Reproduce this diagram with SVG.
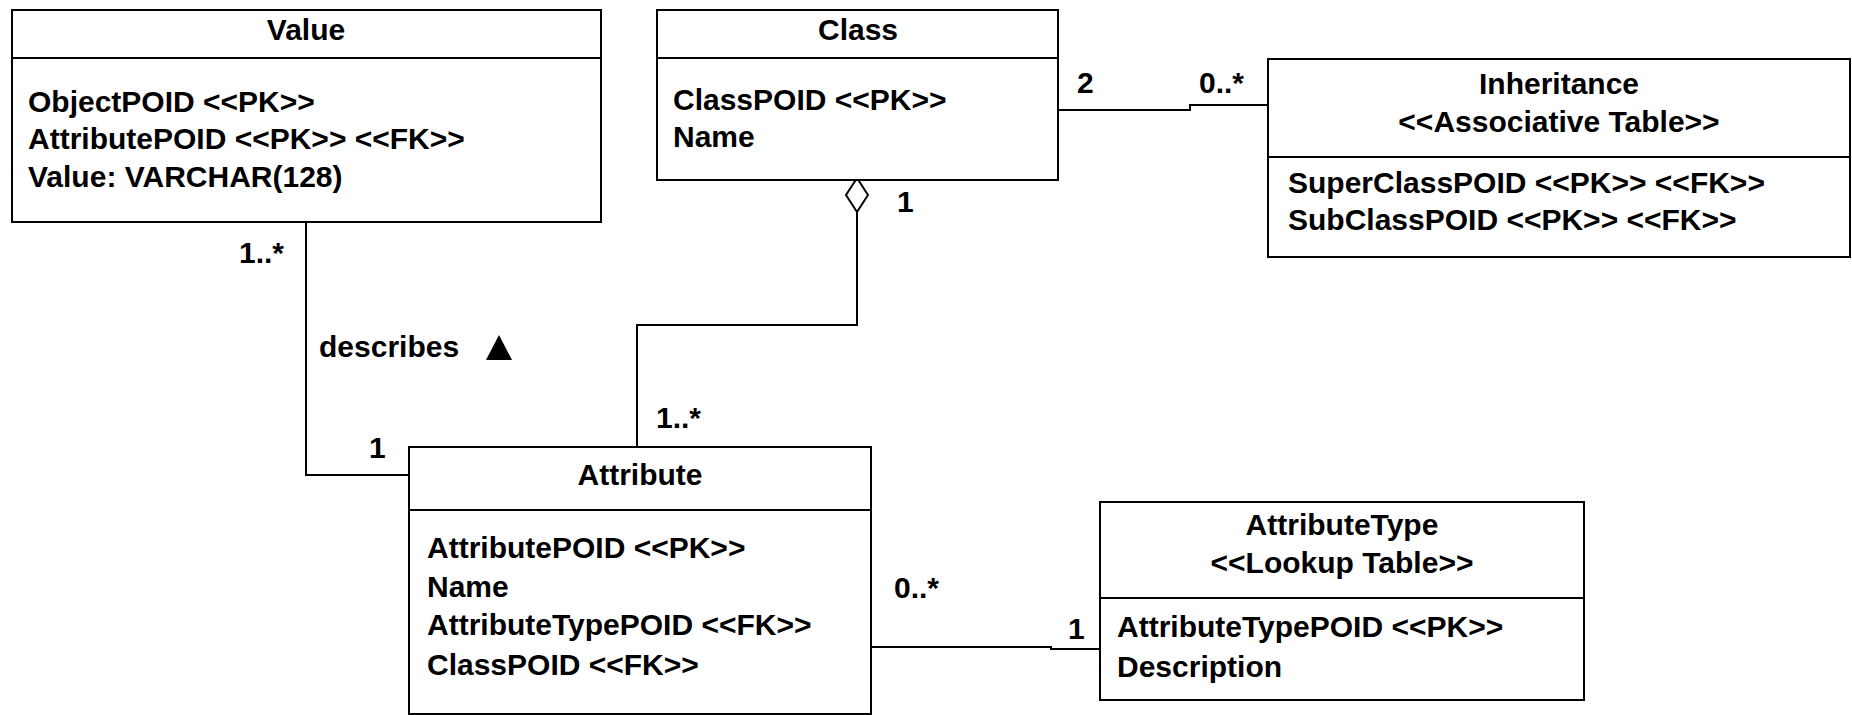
<svg xmlns="http://www.w3.org/2000/svg" width="1852" height="715" viewBox="0 0 1852 715">
  <style>
    .box { fill: #ffffff; stroke: #000000; stroke-width: 2; }
    .sep { stroke: #000000; stroke-width: 2; fill: none; }
    .edge { stroke: #000000; stroke-width: 2; fill: none; }
    text { font-family: "Liberation Sans", Arial, sans-serif; font-weight: bold; font-size: 30px; fill: #000000; }
    .title { text-anchor: middle; }
  </style>
  <rect x="0" y="0" width="1852" height="715" fill="#ffffff"/>

  <!-- connectors -->
  <g id="connectors">
    <!-- Value to Attribute: describes -->
    <path class="edge" d="M306,222 V475 H409"/>
    <text x="239" y="263">1..*</text>
    <text x="369" y="458">1</text>
    <text x="319" y="357">describes</text>
    <polygon points="486,360 512,360 499,335" fill="#000000"/>

    <!-- Class to Attribute: aggregation -->
    <polygon points="857,178 868,195 857,212 846,195" fill="#ffffff" stroke="#000000" stroke-width="2"/>
    <path class="edge" d="M857,212 V325 H637 V447"/>
    <text x="897" y="212">1</text>
    <text x="656" y="428">1..*</text>

    <!-- Class to Inheritance -->
    <path class="edge" d="M1058,110 H1190 V105 H1268"/>
    <text x="1077" y="93">2</text>
    <text x="1199" y="93">0..*</text>

    <!-- Attribute to AttributeType -->
    <path class="edge" d="M871,647 H1051 V649 H1100"/>
    <text x="894" y="598">0..*</text>
    <text x="1068" y="639">1</text>
  </g>

  <!-- Value table -->
  <g id="value">
    <rect class="box" x="12" y="10" width="589" height="212"/>
    <line class="sep" x1="12" y1="58" x2="601" y2="58"/>
    <text class="title" x="306" y="40">Value</text>
    <text x="28" y="112">ObjectPOID &lt;&lt;PK&gt;&gt;</text>
    <text x="28" y="149">AttributePOID &lt;&lt;PK&gt;&gt; &lt;&lt;FK&gt;&gt;</text>
    <text x="28" y="187">Value: VARCHAR(128)</text>
  </g>

  <!-- Class table -->
  <g id="class">
    <rect class="box" x="657" y="10" width="401" height="170"/>
    <line class="sep" x1="657" y1="58" x2="1058" y2="58"/>
    <text class="title" x="858" y="40">Class</text>
    <text x="673" y="110">ClassPOID &lt;&lt;PK&gt;&gt;</text>
    <text x="673" y="147">Name</text>
  </g>

  <!-- Inheritance associative table -->
  <g id="inheritance">
    <rect class="box" x="1268" y="59" width="582" height="198"/>
    <line class="sep" x1="1268" y1="157" x2="1850" y2="157"/>
    <text class="title" x="1559" y="94">Inheritance</text>
    <text class="title" x="1559" y="132">&lt;&lt;Associative Table&gt;&gt;</text>
    <text x="1288" y="193">SuperClassPOID &lt;&lt;PK&gt;&gt; &lt;&lt;FK&gt;&gt;</text>
    <text x="1288" y="230">SubClassPOID &lt;&lt;PK&gt;&gt; &lt;&lt;FK&gt;&gt;</text>
  </g>

  <!-- Attribute table -->
  <g id="attribute">
    <rect class="box" x="409" y="447" width="462" height="267"/>
    <line class="sep" x1="409" y1="510" x2="871" y2="510"/>
    <text class="title" x="640" y="485">Attribute</text>
    <text x="427" y="558">AttributePOID &lt;&lt;PK&gt;&gt;</text>
    <text x="427" y="597">Name</text>
    <text x="427" y="635">AttributeTypePOID &lt;&lt;FK&gt;&gt;</text>
    <text x="427" y="675">ClassPOID &lt;&lt;FK&gt;&gt;</text>
  </g>

  <!-- AttributeType lookup table -->
  <g id="attributetype">
    <rect class="box" x="1100" y="502" width="484" height="198"/>
    <line class="sep" x1="1100" y1="598" x2="1584" y2="598"/>
    <text class="title" x="1342" y="535">AttributeType</text>
    <text class="title" x="1342" y="573">&lt;&lt;Lookup Table&gt;&gt;</text>
    <text x="1117" y="637">AttributeTypePOID &lt;&lt;PK&gt;&gt;</text>
    <text x="1117" y="677">Description</text>
  </g>
</svg>
